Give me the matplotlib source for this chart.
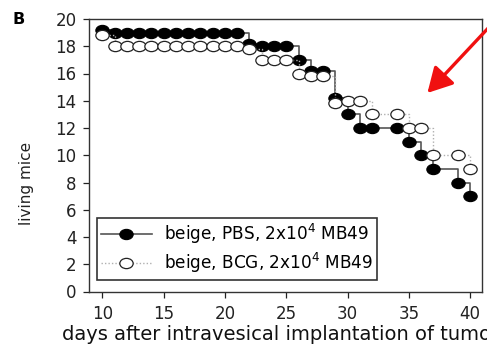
import numpy as np
import matplotlib
matplotlib.use("Agg")
import matplotlib.pyplot as plt
from matplotlib.path import Path
from matplotlib.transforms import Affine2D
from matplotlib.patches import FancyArrowPatch, ArrowStyle

plt.rcParams["font.family"] = ["DejaVu Sans"]
plt.rcParams["mathtext.default"] = "regular"

# Survival counts (living mice) per observation day
days = [10, 11, 12, 13, 14, 15, 16, 17, 18, 19, 20, 21, 22, 23, 24, 25,
        26, 27, 28, 29, 30, 31, 32, 34, 35, 36, 37, 39, 40]
pbs = [19, 19, 19, 19, 19, 19, 19, 19, 19, 19, 19, 19, 18, 18, 18, 18,
       17, 16, 16, 14, 13, 12, 12, 12, 11, 10, 9, 8, 7]
bcg = [19, 18, 18, 18, 18, 18, 18, 18, 18, 18, 18, 18, 18, 17, 17, 17,
       16, 16, 16, 14, 14, 14, 13, 13, 12, 12, 10, 10, 9]

label_pbs = "beige, PBS, 2x10$^4$ MB49"
label_bcg = "beige, BCG, 2x10$^4$ MB49"
xticks = [10, 15, 20, 25, 30, 35, 40]
yticks = [0, 2, 4, 6, 8, 10, 12, 14, 16, 18, 20]

x = np.array(days, dtype=float)
y_pbs = np.array(pbs, dtype=float)
y_bcg = np.array(bcg, dtype=float)
# nudge coinciding points apart so both groups stay visible
same = y_pbs == y_bcg
y_pbs_d = y_pbs + 0.2 * same
y_bcg_d = y_bcg - 0.2 * same

# slightly wide oval marker
oval = Path.unit_circle().transformed(Affine2D().scale(1.3, 1.0))

fig = plt.figure(figsize=(4.87, 3.53), dpi=100)
ax = fig.add_axes([89 / 487, 1 - 291.5 / 353, 393 / 487, 272.5 / 353])

ax.plot(x, y_pbs_d, drawstyle="steps-post", color="#555555", lw=1.2,
        marker=oval, ms=9.6, mfc="black", mec="black", mew=0.8,
        label=label_pbs, zorder=3)
ax.plot(x, y_bcg_d, drawstyle="steps-post", color="#b0b0b0", lw=1.0,
        ls=(0, (1, 1.5)), marker=oval, ms=9.6, mfc="white", mec="#222222",
        mew=0.9, label=label_bcg, zorder=4)

ax.set_xlim(8.92, 40.96)
ax.set_ylim(0, 20)
ax.set_xticks(xticks)
ax.set_yticks(yticks)
ax.tick_params(axis="both", direction="out", length=4, width=0.9,
               labelsize=12, colors="#222222")
ax.tick_params(axis="x", pad=6)
ax.tick_params(axis="y", pad=5)
for side in ax.spines.values():
    side.set_color("#333333")
    side.set_linewidth(1.0)

ax.set_ylabel("living mice", fontsize=11, color="#222222")
ax.yaxis.set_label_coords(-0.14, 0.396)
fig.text(62 / 487, 1 - 334 / 353, "days after intravesical implantation of tumor cells",
         fontsize=14, ha="left", va="center", color="#111111")

leg = ax.legend(loc="lower left", bbox_to_anchor=(0.0196, 0.044),
                borderaxespad=0, fontsize=12.2, frameon=True, fancybox=False,
                handlelength=3.0, handletextpad=0.7, labelspacing=0.3,
                borderpad=0.25)
leg.get_frame().set_edgecolor("black")
leg.get_frame().set_linewidth(1.2)

fig.text(13 / 487, 1 - 20 / 353, "B", fontsize=11.5, fontweight="bold",
         ha="left", va="center")

arrow = FancyArrowPatch((492, 353 - 24), (425.5, 353 - 95),
                        transform=None,
                        arrowstyle=ArrowStyle("-|>", head_length=1.0, head_width=0.55),
                        mutation_scale=15, color="#f01010", lw=2.4)
fig.add_artist(arrow)

fig.savefig("out.png", dpi=100)
